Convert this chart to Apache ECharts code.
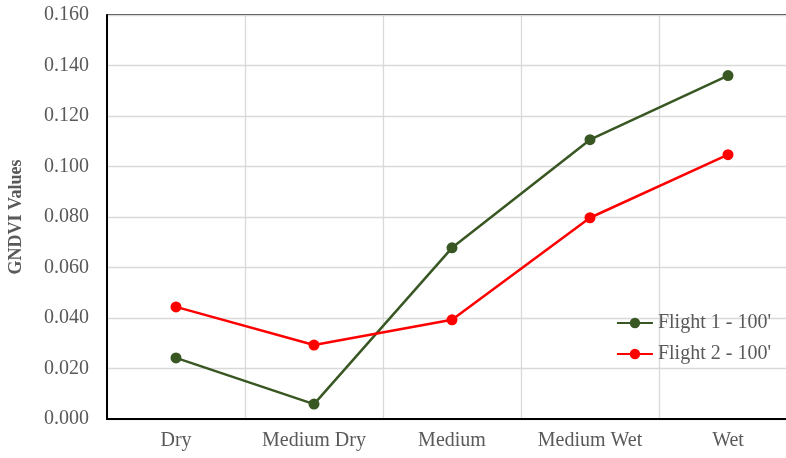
<!DOCTYPE html>
<html>
<head>
<meta charset="utf-8">
<script src="https://cdn.jsdelivr.net/npm/echarts@6/dist/echarts.min.js"></script>
<style>
  html, body { margin: 0; padding: 0; background: #fff; }
  #chart { width: 786px; height: 458px; }
</style>
</head>
<body>
<div id="chart"></div>
<script>
// Soil moisture classes along the x axis
const categories = ['Dry', 'Medium Dry', 'Medium', 'Medium Wet', 'Wet'];
// Mean GNDVI per class for each flight
const flight1 = [0.0242, 0.0059, 0.0678, 0.1106, 0.1360];
const flight2 = [0.0444, 0.0293, 0.0393, 0.0797, 0.1047];
const seriesNames = ["Flight 1 - 100'", "Flight 2 - 100'"];

const serif = '"Liberation Serif", "Times New Roman", serif';
const textGray = '#595959';

const chart = echarts.init(document.getElementById('chart'), null, { renderer: 'canvas' });
chart.setOption({
  animation: false,
  backgroundColor: '#fff',
  grid: {
    left: 107, right: -11, top: 15, bottom: 39,
    outerBoundsMode: 'none',
    containLabel: false,
    show: true, borderColor: '#000', borderWidth: 1.5
  },
  legend: {
    orient: 'vertical',
    right: 10, top: 308,
    itemWidth: 36, itemHeight: 13, itemGap: 11,
    textStyle: { fontFamily: serif, fontSize: 20, color: textGray },
    data: seriesNames
  },
  xAxis: {
    type: 'category',
    data: categories,
    boundaryGap: true,
    axisLine: { lineStyle: { color: '#000', width: 2 } },
    axisTick: { show: false },
    axisLabel: { fontFamily: serif, fontSize: 20, color: textGray, margin: 12 },
    splitLine: { show: true, lineStyle: { color: '#d9d9d9', width: 1.3 } }
  },
  yAxis: {
    type: 'value',
    min: 0, max: 0.16, interval: 0.02,
    name: 'GNDVI Values',
    nameLocation: 'middle',
    nameGap: 82,
    nameTextStyle: { fontFamily: serif, fontSize: 18, fontWeight: 'bold', color: textGray },
    axisLine: { show: true, lineStyle: { color: '#000', width: 2 } },
    axisTick: { show: false },
    axisLabel: {
      fontFamily: serif, fontSize: 20, color: textGray, margin: 18,
      formatter: v => v.toFixed(3)
    },
    splitLine: { show: true, lineStyle: { color: '#d9d9d9', width: 1.3 } }
  },
  series: [
    {
      name: seriesNames[0], type: 'line', data: flight1,
      symbol: 'circle', symbolSize: 11,
      itemStyle: { color: '#385723' },
      lineStyle: { color: '#385723', width: 2.5 }
    },
    {
      name: seriesNames[1], type: 'line', data: flight2,
      symbol: 'circle', symbolSize: 11,
      itemStyle: { color: '#ff0000' },
      lineStyle: { color: '#ff0000', width: 2.5 }
    }
  ]
});
</script>
</body>
</html>
